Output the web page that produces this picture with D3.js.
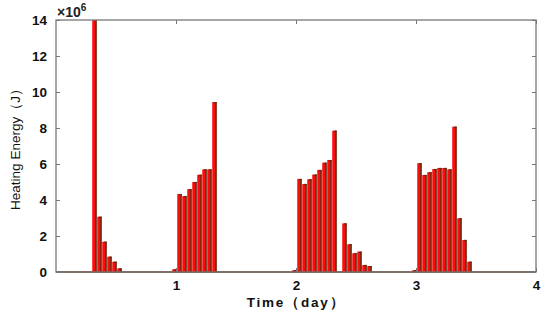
<!DOCTYPE html>
<html>
<head>
<meta charset="utf-8">
<script src="https://cdn.jsdelivr.net/npm/d3@7"></script>
<style>
  body { margin: 0; background: #fff; }
  svg { display: block; font-family: "Liberation Sans", Arial, sans-serif; }
  .tick-label { font-size: 13.5px; font-weight: bold; fill: #111; }
</style>
</head>
<body>
<svg width="550" height="312"></svg>
<script>
const svg = d3.select("svg");

// hour index (from start of day 0) and heating energy (x10^6 J)
const hours = [8, 9, 10, 11, 12, 13, 24,
  25, 26, 27, 28, 29, 30, 31, 32,
  48, 49, 50, 51, 52, 53, 54, 55, 56, 58, 59, 60, 61, 62, 63,
  72, 73, 74, 75, 76, 77, 78, 79, 80, 81, 82, 83];
const energy = [14.6, 3.07, 1.68, 0.85, 0.57, 0.2, 0.15,
  4.33, 4.22, 4.6, 5.0, 5.4, 5.7, 5.7, 9.44,
  0.1, 5.17, 4.89, 5.15, 5.41, 5.67, 6.07, 6.22, 7.85, 2.7, 1.54, 1.04, 1.13, 0.39, 0.33,
  0.1, 6.04, 5.39, 5.54, 5.72, 5.78, 5.78, 5.7, 8.07, 2.98, 1.78, 0.57];
const xTicks = [1, 2, 3, 4];
const yTicks = [0, 2, 4, 6, 8, 10, 12, 14];

const data = hours.map((h, i) => ({ day: h / 24, value: energy[i] }));

const margin = { left: 56, right: 14, top: 20, bottom: 40 };
const width = 550 - margin.left - margin.right;
const height = 312 - margin.top - margin.bottom;

const xScale = d3.scaleLinear().domain([0, 4]).range([0, width]);
const yScale = d3.scaleLinear().domain([0, 14]).range([height, 0]);

const g = svg.append("g").attr("transform", `translate(${margin.left}, ${margin.top})`);

g.append("clipPath").attr("id", "clip")
  .append("rect").attr("width", width).attr("height", height + 1);

const plot = g.append("g").attr("clip-path", "url(#clip)");

// zero line of the series
plot.append("line")
  .attr("x1", 0).attr("x2", width)
  .attr("y1", yScale(0)).attr("y2", yScale(0))
  .attr("stroke", "#6b3a12").attr("stroke-width", 1.5);

const barW = xScale(0.75 / 24);

plot.selectAll(".bar").data(data).enter()
  .append("rect")
  .attr("class", "bar")
  .attr("x", (d) => xScale(d.day) - barW)
  .attr("y", (d) => yScale(d.value))
  .attr("width", barW)
  .attr("height", (d) => yScale(0) - yScale(d.value))
  .attr("fill", "#fa0d0a");

plot.selectAll(".stem").data(data).enter()
  .append("line")
  .attr("class", "stem")
  .attr("x1", (d) => xScale(d.day)).attr("x2", (d) => xScale(d.day))
  .attr("y1", yScale(0)).attr("y2", (d) => yScale(d.value))
  .attr("stroke", "#6e2a10").attr("stroke-width", 1.7);

plot.selectAll(".cap").data(data).enter()
  .append("line")
  .attr("class", "cap")
  .attr("x1", (d) => xScale(d.day) - 2.2).attr("x2", (d) => xScale(d.day) + 0.8)
  .attr("y1", (d) => yScale(d.value) + 0.5).attr("y2", (d) => yScale(d.value) + 0.5)
  .attr("stroke", "#6e2a10").attr("stroke-width", 1.2);

// axes (MATLAB-like box with inward ticks)
const xAxis = d3.axisBottom(xScale).tickValues(xTicks).tickSize(-4).tickPadding(8).tickFormat(d3.format("d"));
const yAxis = d3.axisLeft(yScale).tickValues(yTicks).tickSize(-4).tickPadding(9).tickFormat(d3.format("d"));

const xAxisG = g.append("g").attr("transform", `translate(0, ${height})`).call(xAxis);
const yAxisG = g.append("g").call(yAxis);
[xAxisG, yAxisG].forEach((a) => {
  a.select(".domain").remove();
  a.selectAll(".tick line").attr("stroke", "#777");
  a.selectAll(".tick text").attr("class", "tick-label").attr("font-family", null).attr("font-size", null);
});

const topAxisG = g.append("g").call(d3.axisTop(xScale).tickValues(xTicks).tickSize(-4).tickFormat(""));
const rightAxisG = g.append("g").attr("transform", `translate(${width}, 0)`)
  .call(d3.axisRight(yScale).tickValues(yTicks).tickSize(-4).tickFormat(""));
[topAxisG, rightAxisG].forEach((a) => {
  a.select(".domain").remove();
  a.selectAll(".tick line").attr("stroke", "#777");
});

g.append("rect")
  .attr("width", width).attr("height", height)
  .attr("fill", "none").attr("stroke", "#777").attr("stroke-width", 1.3);

// exponent label
const expo = g.append("text").attr("x", 1).attr("y", -3)
  .attr("font-size", 14).attr("font-weight", "bold").attr("fill", "#222");
expo.append("tspan").text("×10");
expo.append("tspan").attr("dy", -6).attr("font-size", 10).text("6");

// axis labels
svg.append("text")
  .attr("x", 296).attr("y", 307)
  .attr("text-anchor", "middle")
  .attr("font-size", 13.5).attr("font-weight", "bold")
  .attr("letter-spacing", 1.8).attr("fill", "#111")
  .text("Time（day）");

svg.append("text")
  .attr("transform", "translate(20, 146) rotate(-90)")
  .attr("text-anchor", "middle")
  .attr("font-size", 13.5).attr("fill", "#111")
  .text("Heating Energy（J）");
</script>
</body>
</html>
